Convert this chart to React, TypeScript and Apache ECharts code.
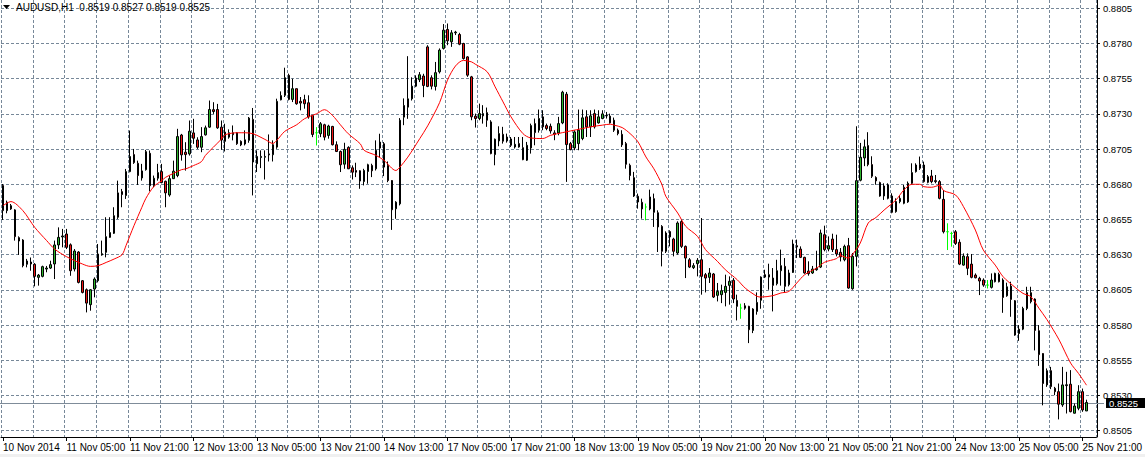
import React, { useEffect, useRef } from "react";
import * as echarts from "echarts";

const SYMBOL = "AUDUSD";
const PERIOD = "H1";

// x-axis tick labels: one every 16 hourly bars
const timeLabels = [
  "10 Nov 2014", "11 Nov 05:00", "11 Nov 21:00", "12 Nov 13:00", "13 Nov 05:00",
  "13 Nov 21:00", "14 Nov 13:00", "17 Nov 05:00", "17 Nov 21:00", "18 Nov 13:00",
  "19 Nov 05:00", "19 Nov 21:00", "20 Nov 13:00", "21 Nov 05:00", "21 Nov 21:00",
  "24 Nov 13:00", "25 Nov 05:00", "25 Nov 21:00",
];
const barsPerLabel = 16;
const barsPerGridLine = 8;
const slotCount = 276;

// price axis
const priceTicks = [0.8505, 0.853, 0.8555, 0.858, 0.8605, 0.863, 0.8655, 0.868, 0.8705, 0.873, 0.8755, 0.878, 0.8805];
const priceMin = 0.85005;
const priceMax = 0.88109;

// hourly bars: [open, high, low, close]
const candles: number[][] = [
  [0.86791, 0.86802, 0.86547, 0.86613], [0.86613, 0.86684, 0.86594, 0.86672], [0.86648, 0.8666, 0.86618, 0.86625], [0.86618, 0.86623, 0.864, 0.86428],
  [0.86421, 0.8643, 0.86298, 0.86397], [0.86404, 0.8641, 0.8621, 0.86222], [0.86232, 0.8627, 0.8621, 0.86255], [0.86248, 0.8628, 0.86186, 0.86234],
  [0.86232, 0.8624, 0.86075, 0.86146], [0.86139, 0.86163, 0.8608, 0.86155], [0.86146, 0.86222, 0.86139, 0.86215], [0.86198, 0.8622, 0.86175, 0.86205],
  [0.86205, 0.86257, 0.86198, 0.86229], [0.86234, 0.864, 0.86127, 0.86369], [0.86369, 0.86494, 0.8634, 0.86423], [0.86426, 0.86483, 0.86352, 0.86433],
  [0.86447, 0.86483, 0.8634, 0.86352], [0.8637, 0.8638, 0.8615, 0.86186], [0.86198, 0.8634, 0.86181, 0.86326], [0.86319, 0.86325, 0.86096, 0.86103],
  [0.86115, 0.8612, 0.86025, 0.86032], [0.86051, 0.8606, 0.8589, 0.85956], [0.85945, 0.86055, 0.85902, 0.86051], [0.86056, 0.86139, 0.85997, 0.86127],
  [0.86115, 0.86376, 0.86103, 0.86305], [0.86298, 0.864, 0.86293, 0.86307], [0.86317, 0.86566, 0.86281, 0.86428], [0.86423, 0.86566, 0.8642, 0.86457],
  [0.86452, 0.86637, 0.86447, 0.86577], [0.86566, 0.86826, 0.86554, 0.86739], [0.86748, 0.86767, 0.86637, 0.86727], [0.8672, 0.86909, 0.86696, 0.8689],
  [0.8689, 0.87182, 0.86885, 0.86997], [0.87011, 0.87051, 0.86945, 0.86954], [0.86949, 0.86968, 0.86795, 0.86862], [0.86845, 0.86945, 0.86826, 0.86895],
  [0.86904, 0.87044, 0.86897, 0.87032], [0.8702, 0.8704, 0.8675, 0.8679], [0.8679, 0.86862, 0.86779, 0.86843], [0.86843, 0.86945, 0.86826, 0.86883],
  [0.8689, 0.86945, 0.86807, 0.86812], [0.86821, 0.86826, 0.86637, 0.86739], [0.86724, 0.86862, 0.86712, 0.8684], [0.8684, 0.86968, 0.86838, 0.86893],
  [0.86862, 0.87194, 0.8685, 0.87139], [0.8715, 0.87158, 0.86968, 0.87009], [0.87028, 0.87099, 0.86897, 0.87011], [0.87016, 0.87253, 0.87004, 0.87177],
  [0.87165, 0.87265, 0.87087, 0.87127], [0.87115, 0.87134, 0.87051, 0.87063], [0.87063, 0.87206, 0.87028, 0.87139], [0.87151, 0.87217, 0.87146, 0.87201],
  [0.87206, 0.87395, 0.87201, 0.87331], [0.8733, 0.87383, 0.873, 0.87317], [0.87331, 0.87371, 0.87194, 0.87201], [0.87206, 0.87253, 0.87045, 0.87115],
  [0.87105, 0.8723, 0.87033, 0.87171], [0.87135, 0.8719, 0.87124, 0.87166], [0.87152, 0.87218, 0.87112, 0.87166], [0.87166, 0.8717, 0.8708, 0.87088],
  [0.87105, 0.87112, 0.87071, 0.8708], [0.87086, 0.87183, 0.87076, 0.87116], [0.87112, 0.87278, 0.87095, 0.8727], [0.87261, 0.87342, 0.86721, 0.86958],
  [0.86946, 0.87041, 0.86887, 0.86998], [0.8699, 0.87041, 0.86915, 0.86998], [0.86992, 0.87041, 0.86834, 0.86998], [0.87009, 0.87154, 0.86962, 0.87016],
  [0.8701, 0.87112, 0.86962, 0.87081], [0.87064, 0.87408, 0.87052, 0.87389], [0.874, 0.8746, 0.87396, 0.8743], [0.87432, 0.87628, 0.8742, 0.87557],
  [0.87574, 0.87586, 0.87396, 0.87403], [0.87403, 0.8755, 0.87384, 0.87479], [0.87479, 0.8748, 0.87365, 0.87372], [0.87389, 0.8742, 0.87325, 0.87377],
  [0.87401, 0.87436, 0.87337, 0.87372], [0.87379, 0.87432, 0.87266, 0.87278], [0.87289, 0.8729, 0.87135, 0.87154], [0.87166, 0.87206, 0.87076, 0.87166],
  [0.87159, 0.87242, 0.87135, 0.8723], [0.87223, 0.8723, 0.87112, 0.87135], [0.87147, 0.87223, 0.87124, 0.87214], [0.87211, 0.87215, 0.87076, 0.87081],
  [0.87081, 0.87105, 0.87029, 0.87033], [0.87033, 0.8704, 0.86887, 0.86939], [0.86943, 0.87095, 0.8691, 0.87048], [0.87062, 0.8707, 0.86908, 0.8691],
  [0.86917, 0.86934, 0.86834, 0.86886], [0.86898, 0.86953, 0.86851, 0.86886], [0.86896, 0.869, 0.86768, 0.86823], [0.8682, 0.8691, 0.86792, 0.86898],
  [0.86891, 0.86946, 0.86804, 0.86939], [0.86934, 0.86946, 0.86851, 0.86896], [0.8691, 0.87112, 0.86898, 0.87041], [0.87057, 0.87159, 0.86993, 0.871],
  [0.87088, 0.871, 0.86858, 0.86922], [0.86934, 0.86962, 0.86815, 0.86827], [0.86827, 0.8683, 0.86476, 0.86619], [0.86626, 0.8668, 0.86555, 0.86673],
  [0.86661, 0.8727, 0.8665, 0.87255], [0.87277, 0.8741, 0.8722, 0.8736], [0.87348, 0.8771, 0.87265, 0.87407], [0.87407, 0.8756, 0.87395, 0.87497],
  [0.87497, 0.87574, 0.8749, 0.87555], [0.87543, 0.87597, 0.87526, 0.87578], [0.87569, 0.87585, 0.87419, 0.87502], [0.87776, 0.87788, 0.8749, 0.87495],
  [0.87557, 0.87574, 0.87474, 0.87497], [0.87495, 0.87669, 0.87466, 0.87593], [0.87599, 0.87765, 0.87587, 0.87753], [0.87765, 0.87938, 0.87757, 0.87895],
  [0.879, 0.87942, 0.87788, 0.87819], [0.87812, 0.87895, 0.87776, 0.87876], [0.87876, 0.8789, 0.8786, 0.87881], [0.87864, 0.87876, 0.87788, 0.87795],
  [0.878, 0.87805, 0.87686, 0.87693], [0.87705, 0.8771, 0.87563, 0.87575], [0.87563, 0.8757, 0.87255, 0.87279], [0.87284, 0.87302, 0.87203, 0.87267],
  [0.87267, 0.87373, 0.87255, 0.87302], [0.87286, 0.87362, 0.87231, 0.87302], [0.87309, 0.87345, 0.87208, 0.87255], [0.87243, 0.87255, 0.87013, 0.87018],
  [0.87011, 0.87125, 0.86935, 0.8712], [0.87108, 0.87212, 0.8707, 0.8716], [0.87155, 0.87208, 0.87089, 0.87106], [0.87108, 0.8716, 0.87096, 0.87136],
  [0.87122, 0.87136, 0.87065, 0.87077], [0.87065, 0.87136, 0.87054, 0.87084], [0.87089, 0.87136, 0.8706, 0.87065], [0.8706, 0.87136, 0.86971, 0.86975],
  [0.86971, 0.87101, 0.86966, 0.87077], [0.87058, 0.87231, 0.87018, 0.87217], [0.87231, 0.87267, 0.87077, 0.87167], [0.87184, 0.87331, 0.87167, 0.87267],
  [0.87279, 0.87326, 0.87184, 0.87208], [0.87217, 0.87231, 0.87184, 0.87196], [0.87212, 0.87231, 0.8716, 0.87179], [0.87165, 0.87184, 0.87113, 0.87155],
  [0.87165, 0.87279, 0.87148, 0.87231], [0.87236, 0.87464, 0.87227, 0.87454], [0.8744, 0.87456, 0.86817, 0.87082], [0.87089, 0.87101, 0.87042, 0.87046],
  [0.87058, 0.87184, 0.87042, 0.87172], [0.87089, 0.87331, 0.87042, 0.87184], [0.87125, 0.87331, 0.87113, 0.87272], [0.87279, 0.87326, 0.87136, 0.87208],
  [0.87208, 0.87326, 0.87136, 0.87286], [0.87302, 0.87331, 0.87196, 0.87208], [0.87236, 0.87326, 0.87231, 0.87279], [0.87267, 0.87326, 0.87262, 0.873],
  [0.87286, 0.87314, 0.87267, 0.87289], [0.87284, 0.87302, 0.87231, 0.87236], [0.87255, 0.87274, 0.87172, 0.87184], [0.87184, 0.87196, 0.87148, 0.8716],
  [0.87155, 0.87184, 0.87065, 0.8708], [0.87089, 0.87101, 0.86911, 0.86942], [0.86935, 0.86947, 0.86828, 0.86862], [0.86847, 0.86888, 0.8671, 0.86717],
  [0.86715, 0.86734, 0.86627, 0.86674], [0.86672, 0.86698, 0.86556, 0.86625], [0.86639, 0.86663, 0.86544, 0.86639], [0.86625, 0.86762, 0.86615, 0.8671],
  [0.86698, 0.86734, 0.86497, 0.86601], [0.86598, 0.86615, 0.86319, 0.86497], [0.86501, 0.8651, 0.86217, 0.86324], [0.86324, 0.86466, 0.86312, 0.86454],
  [0.86464, 0.86473, 0.86359, 0.86426], [0.86411, 0.8642, 0.86288, 0.86324], [0.86312, 0.86537, 0.863, 0.86525], [0.86535, 0.86549, 0.86347, 0.86359],
  [0.86359, 0.86365, 0.86134, 0.86276], [0.86264, 0.86276, 0.86205, 0.86212], [0.86208, 0.8624, 0.86198, 0.86222], [0.86236, 0.86276, 0.86146, 0.8626],
  [0.86264, 0.8656, 0.86016, 0.86146], [0.86158, 0.8617, 0.86032, 0.86134], [0.86139, 0.86205, 0.86099, 0.8617], [0.86163, 0.8617, 0.85992, 0.85999],
  [0.86011, 0.86099, 0.85968, 0.86039], [0.86016, 0.86087, 0.85956, 0.86044], [0.86032, 0.86158, 0.85933, 0.86075], [0.86082, 0.86146, 0.85945, 0.86111],
  [0.86118, 0.86134, 0.85956, 0.85985], [0.85975, 0.86016, 0.85833, 0.85933], [0.85921, 0.85952, 0.85845, 0.85921], [0.85937, 0.85956, 0.85909, 0.8592],
  [0.85933, 0.85937, 0.85672, 0.85767], [0.85762, 0.8592, 0.85743, 0.85914], [0.85897, 0.86032, 0.85874, 0.85961], [0.85976, 0.86146, 0.85916, 0.86141],
  [0.86158, 0.86193, 0.86134, 0.86141], [0.86141, 0.86236, 0.86051, 0.86158], [0.86134, 0.86205, 0.85897, 0.86082], [0.86094, 0.86264, 0.86082, 0.86186],
  [0.86186, 0.86336, 0.8608, 0.86222], [0.86217, 0.86276, 0.86028, 0.86075], [0.86087, 0.86193, 0.86075, 0.8617], [0.86174, 0.86407, 0.8617, 0.86376],
  [0.86364, 0.86407, 0.86276, 0.86355], [0.8634, 0.86359, 0.86276, 0.86281], [0.86281, 0.86285, 0.86165, 0.8617], [0.86184, 0.86253, 0.86151, 0.86165],
  [0.8617, 0.8622, 0.86163, 0.86198], [0.86193, 0.86328, 0.86186, 0.86202], [0.86212, 0.86478, 0.86205, 0.86454], [0.86442, 0.86506, 0.86324, 0.86336],
  [0.8634, 0.8643, 0.86324, 0.86364], [0.86411, 0.86449, 0.86319, 0.86336], [0.86336, 0.86442, 0.86288, 0.86305], [0.86317, 0.86347, 0.86252, 0.86284],
  [0.86264, 0.86371, 0.86253, 0.86359], [0.86364, 0.86419, 0.86058, 0.86063], [0.86058, 0.86312, 0.86051, 0.86288], [0.86288, 0.87212, 0.86217, 0.86826],
  [0.86829, 0.87094, 0.86821, 0.86992], [0.86987, 0.87118, 0.86929, 0.87066], [0.87075, 0.8717, 0.86928, 0.8694], [0.8694, 0.86999, 0.86845, 0.86857],
  [0.86848, 0.86857, 0.86797, 0.86824], [0.86812, 0.86819, 0.86712, 0.86717], [0.86717, 0.86807, 0.86689, 0.86788], [0.86795, 0.86807, 0.86693, 0.867],
  [0.86717, 0.86736, 0.86594, 0.86601], [0.86606, 0.867, 0.86598, 0.86677], [0.86677, 0.86717, 0.86665, 0.867], [0.86665, 0.86795, 0.86658, 0.86779],
  [0.86675, 0.8682, 0.86668, 0.86807], [0.86807, 0.86949, 0.868, 0.86883], [0.8689, 0.86949, 0.86883, 0.86937], [0.86942, 0.86997, 0.86902, 0.86914],
  [0.86937, 0.86961, 0.86812, 0.86819], [0.86814, 0.86866, 0.86807, 0.86854], [0.86859, 0.86902, 0.86807, 0.86819], [0.86826, 0.86866, 0.86807, 0.86819],
  [0.86819, 0.8683, 0.86693, 0.867], [0.86693, 0.8676, 0.86451, 0.86463], [0.86463, 0.86523, 0.86333, 0.86463], [0.86451, 0.86463, 0.86357, 0.86451],
  [0.86463, 0.86475, 0.86369, 0.8638], [0.86388, 0.86409, 0.86226, 0.86233], [0.86226, 0.86309, 0.86222, 0.8629], [0.86286, 0.86309, 0.86155, 0.86203],
  [0.86233, 0.86305, 0.86132, 0.86139], [0.86155, 0.86167, 0.86132, 0.86136], [0.86132, 0.86143, 0.86013, 0.86113], [0.8612, 0.86132, 0.86072, 0.86084],
  [0.86084, 0.8612, 0.8606, 0.86084], [0.86068, 0.86167, 0.8606, 0.8612], [0.86108, 0.86172, 0.86103, 0.86167], [0.8616, 0.86172, 0.86103, 0.86108],
  [0.8612, 0.86132, 0.85887, 0.85996], [0.86008, 0.86101, 0.86001, 0.86072], [0.86077, 0.86108, 0.85859, 0.85982], [0.85973, 0.85978, 0.85724, 0.85729],
  [0.8574, 0.858, 0.85688, 0.85771], [0.85771, 0.8593, 0.85764, 0.85918], [0.85918, 0.86072, 0.85906, 0.8603], [0.8603, 0.86072, 0.85954, 0.85966],
  [0.85985, 0.8599, 0.8562, 0.85762], [0.8576, 0.858, 0.8551, 0.8559], [0.85598, 0.856, 0.8523, 0.85385], [0.85375, 0.85492, 0.85361, 0.85476],
  [0.85476, 0.85503, 0.85345, 0.85363], [0.85351, 0.85361, 0.85302, 0.85327], [0.85327, 0.85385, 0.8513, 0.85238], [0.85233, 0.85503, 0.85219, 0.85375],
  [0.8537, 0.85468, 0.85172, 0.85376], [0.8538, 0.8548, 0.8518, 0.85185], [0.85174, 0.85243, 0.85172, 0.85225], [0.85209, 0.85373, 0.85195, 0.85327],
  [0.85327, 0.85349, 0.85184, 0.85197], [0.8519, 0.8527, 0.8519, 0.8525],
];

// moving average line: [bar index, value]
const maPoints: number[][] = [
  [0, 0.86648], [2, 0.86677], [5, 0.86613], [8, 0.86494], [11, 0.864], [13, 0.8634], [16, 0.86286], [20, 0.86234],
  [22, 0.86217], [24, 0.86222], [26, 0.86245], [28, 0.86269], [30, 0.863], [31, 0.86365], [33, 0.86506], [35, 0.86637],
  [36, 0.867], [38, 0.86784], [40, 0.86826], [41, 0.8685], [43, 0.86878], [45, 0.86904], [46, 0.86909], [48, 0.86933],
  [50, 0.86961], [51, 0.87005], [53, 0.87063], [55, 0.8712], [56, 0.87152], [59, 0.87166], [61, 0.87166], [63, 0.87159],
  [66, 0.87119], [68, 0.8709], [69, 0.87112], [71, 0.87176], [74, 0.87223], [76, 0.87266], [79, 0.87301], [81, 0.8733],
  [83, 0.8729], [85, 0.87223], [87, 0.87159], [90, 0.87088], [91, 0.87041], [94, 0.87005], [96, 0.8697], [99, 0.86898],
  [100, 0.86922], [102, 0.86993], [105, 0.87124], [107, 0.87215], [110, 0.8738], [112, 0.8754], [114, 0.8764], [116, 0.8768],
  [118, 0.8767], [119, 0.87653], [122, 0.87599], [124, 0.87492], [126, 0.87385], [128, 0.87279], [131, 0.8716], [133, 0.87129],
  [136, 0.87125], [138, 0.87148], [141, 0.87167], [143, 0.87179], [146, 0.87196], [148, 0.87208], [151, 0.8722], [153, 0.87227],
  [154, 0.8722], [156, 0.87203], [158, 0.8716], [160, 0.87101], [162, 0.86994], [164, 0.8691], [166, 0.868], [167, 0.86715],
  [170, 0.86596], [172, 0.86502], [175, 0.8643], [177, 0.86336], [180, 0.86253], [182, 0.86193], [185, 0.86122], [187, 0.86063],
  [190, 0.86004], [191, 0.85999], [194, 0.86009], [196, 0.86028], [198, 0.86039], [200, 0.86099], [202, 0.86158], [205, 0.86205],
  [207, 0.86246], [210, 0.86272], [211, 0.86293], [213, 0.86276], [214, 0.863], [216, 0.86383], [218, 0.86525], [220, 0.86565],
  [222, 0.86617], [225, 0.86689], [227, 0.8676], [229, 0.868], [231, 0.868], [232, 0.86783], [234, 0.86779], [236, 0.86793],
  [237, 0.86755], [240, 0.86724], [242, 0.86641], [245, 0.86475], [247, 0.86333], [250, 0.86226], [252, 0.86143], [255, 0.86068],
  [257, 0.86025], [259, 0.86001], [261, 0.8592], [263, 0.8584], [266, 0.857], [269, 0.8553], [271, 0.85456], [273, 0.85373],
];

const FONT = "'Liberation Sans', Arial, sans-serif";
const GRID_COLOR = "#778899";
const W = 1145;
const H = 457;
const PLOT_RIGHT = 1104;

export default function App() {
  const ref = useRef<HTMLDivElement>(null);

  useEffect(() => {
    document.body.style.margin = "0";
    const chart = echarts.init(ref.current!, null, { renderer: "svg" });

    const categories = Array.from({ length: slotCount }, (_, i) => String(i));
    const last = candles[candles.length - 1];
    const title = `${SYMBOL},${PERIOD}  ${last.map((v) => v.toFixed(4)).join(" ")}`;
    const lastClose = last[3];

    const showLabel = (i: number) => i % barsPerLabel === 0 && i / barsPerLabel < timeLabels.length;

    chart.setOption({
      animation: false,
      backgroundColor: "#ffffff",
      textStyle: { fontFamily: FONT },
      grid: { left: -0.5, right: W - PLOT_RIGHT + 0.5, top: 0, bottom: 20, containLabel: false },
      xAxis: {
        type: "category",
        data: categories,
        boundaryGap: true,
        axisLine: { lineStyle: { color: "#000", width: 1 } },
        axisTick: {
          show: true,
          alignWithLabel: true,
          length: 4,
          interval: (i: number) => showLabel(i),
          lineStyle: { color: "#000" },
        },
        axisLabel: {
          interval: (i: number) => showLabel(i),
          formatter: (_v: string, i: number) => timeLabels[i / barsPerLabel] ?? "",
          align: "left",
          margin: 5,
          color: "#000",
          fontSize: 10,
          fontFamily: FONT,
        },
        splitLine: {
          show: true,
          interval: (i: number) => i % barsPerGridLine === 0,
          lineStyle: { color: GRID_COLOR, type: [3, 2], width: 1 },
        },
      },
      yAxis: {
        type: "value",
        position: "right",
        offset: 0.5,
        min: priceMin,
        max: priceMax,
        scale: true,
        axisLine: { show: true, lineStyle: { color: "#000", width: 1 } },
        axisTick: { show: true, length: 3, customValues: priceTicks, lineStyle: { color: "#000" } },
        axisLabel: {
          customValues: priceTicks,
          formatter: (v: number) => v.toFixed(4),
          color: "#000",
          fontSize: 9.5,
          margin: 6,
          fontFamily: FONT,
        },
        splitLine: { show: true, lineStyle: { color: GRID_COLOR, type: [3, 2], width: 1 } },
      },
      series: [
        {
          type: "candlestick",
          data: candles.map(([o, h, l, c]) => [o, c, l, h]),
          barWidth: 2,
          itemStyle: {
            color: "#2db52d",
            color0: "#f01414",
            borderColor: "#000",
            borderColor0: "#000",
            borderColorDoji: "#00ff00",
            borderWidth: 1,
          },
          silent: true,
          z: 2,
        },
        {
          type: "line",
          data: maPoints,
          showSymbol: false,
          smooth: 0.3,
          silent: true,
          lineStyle: { color: "#ff0000", width: 1 },
          z: 3,
        },
      ],
    });

    // current price marker placed through the chart's own y scale
    const py = Math.round(chart.convertToPixel({ yAxisIndex: 0 }, lastClose) as number) + 0.5;

    chart.setOption({
      graphic: [
        {
          type: "line",
          shape: { x1: 0, y1: py, x2: PLOT_RIGHT, y2: py },
          style: { stroke: "#7f8c99", lineWidth: 1 },
          z: 1,
          silent: true,
        },
        {
          type: "rect",
          shape: { x: PLOT_RIGHT + 2, y: py - 5.5, width: W - PLOT_RIGHT - 2, height: 10 },
          style: { fill: "#000" },
          z: 10,
          silent: true,
        },
        {
          type: "text",
          x: PLOT_RIGHT + 5,
          y: py,
          style: {
            text: lastClose.toFixed(4),
            fill: "#fff",
            font: `9.5px ${FONT}`,
            verticalAlign: "middle",
          },
          z: 11,
          silent: true,
        },
        {
          type: "polygon",
          shape: { points: [[3, 5], [10, 5], [6.5, 9]] },
          style: { fill: "#000" },
          silent: true,
        },
        {
          type: "text",
          x: 16,
          y: 2,
          style: { text: title, fill: "#000", font: `10px ${FONT}` },
          silent: true,
        },
        {
          type: "rect",
          shape: { x: 0, y: 454, width: W, height: 3 },
          style: { fill: "#f0f0f0" },
          silent: true,
        },
      ],
    });

    return () => chart.dispose();
  }, []);

  return (
    <div
      ref={ref}
      style={{ position: "fixed", left: 0, top: 0, width: W, height: H, background: "#fff" }}
    />
  );
}
